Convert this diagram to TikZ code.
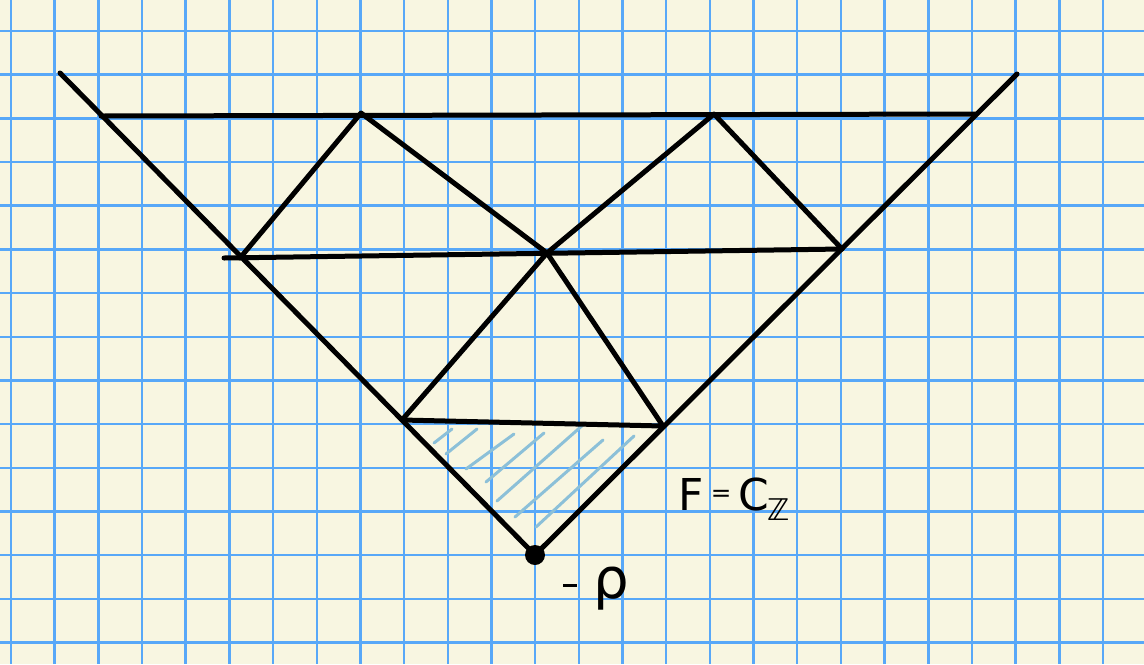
\documentclass[tikz,border=0pt]{standalone}
\usepackage{fontspec}
\setmainfont{DejaVu Sans}
\definecolor{paper}{RGB}{248,246,225}
\definecolor{gridblue}{RGB}{88,168,248}
\definecolor{hatchblue}{RGB}{140,192,216}
\tikzset{
  gridline/.style={draw=gridblue, line width=0.05cm},
  edge/.style={draw=black, line width=0.1cm, line cap=round, line join=round},
  hatch/.style={draw=hatchblue, line width=0.06cm, line cap=round},
  lbl/.style={inner sep=0pt, font=\fontsize{25}{30}\selectfont},
}
\begin{document}
\begin{tikzpicture}[x=0.02cm, y=-0.02cm]
\fill[paper] (0,0) rectangle (1144,664);
\useasboundingbox (0,0) rectangle (1144,664);
% grid
\foreach \k in {0,...,25} { \draw[gridline] ({11+43.68*\k},0) -- ({11+43.68*\k},664); }
\foreach \k in {0,...,14} { \draw[gridline] (0,{31+43.68*\k}) -- (1144,{31+43.68*\k}); }
% hatching
\coordinate (h1a) at (434,443); \coordinate (h1b) at (452,429);
\coordinate (h2a) at (446,454); \coordinate (h2b) at (477,429);
\coordinate (h3a) at (466,469); \coordinate (h3b) at (514,434);
\coordinate (h4a) at (486,482); \coordinate (h4b) at (544,433);
\coordinate (h5a) at (497,501); \coordinate (h5b) at (584,424);
\coordinate (h6a) at (515,517); \coordinate (h6b) at (603,440);
\coordinate (h7a) at (536,527); \coordinate (h7b) at (634,436);
\foreach \i in {1,...,7} { \draw[hatch] (h\i a) -- (h\i b); }
% vertices
\coordinate (LT) at (60,73);
\coordinate (RT) at (1017,74);
\coordinate (A) at (101,116);
\coordinate (B) at (361,113);
\coordinate (C) at (714,114);
\coordinate (D) at (975,114);
\coordinate (Ms) at (224,258);
\coordinate (E) at (240,258);
\coordinate (M) at (547,253);
\coordinate (G) at (842,249);
\coordinate (H) at (402,420);
\coordinate (I) at (663,426);
\node[circle, fill=black, inner sep=0pt, minimum size=0.4cm] (P) at (535,555) {};
% edges
\draw[edge] (LT) -- (P.center);
\draw[edge] (RT) -- (P.center);
\draw[edge] (A) -- (D);
\draw[edge] (Ms) -- (G);
\draw[edge] (H) -- (I);
\draw[edge] (E) -- (B) -- (M) -- (C) -- (G);
\draw[edge] (H) -- (M) -- (I);
% labels
\node[lbl, anchor=base west] (F) at (678,510) {F\,\raisebox{5pt}{\fontsize{14}{16}\selectfont =}\,C\kern-1pt\raisebox{-6pt}{\fontsize{17}{20}\selectfont ℤ}};
\node[inner sep=0pt, anchor=base west, font=\fontsize{32}{36}\selectfont] (rho) at (563,598) {\rule[6.5pt]{8pt}{1.3pt}\kern9pt ρ};
\end{tikzpicture}
\end{document}
